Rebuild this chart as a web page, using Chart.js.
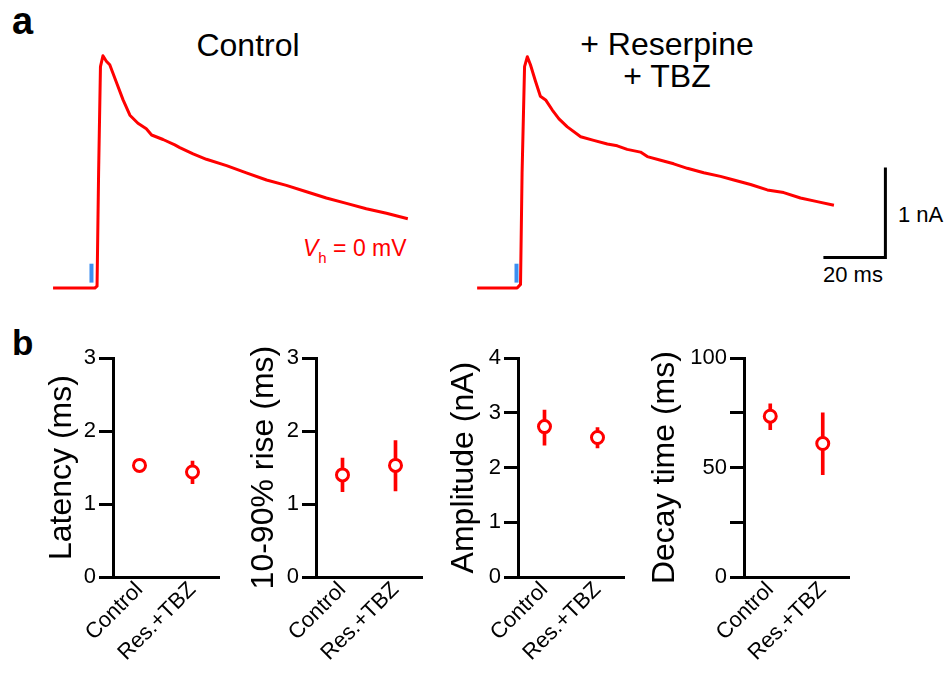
<!DOCTYPE html>
<html>
<head>
<meta charset="utf-8">
<script src="https://cdn.jsdelivr.net/npm/chart.js@4.4.1/dist/chart.umd.min.js"></script>
<style>
  body { margin: 0; background: #fff; }
  #page { position: relative; width: 948px; height: 673px; overflow: hidden; font-family: "Liberation Sans", Arial, sans-serif; }
  canvas { position: absolute; }
  .txt { position: absolute; line-height: 1; white-space: nowrap; color: #000; }
</style>
</head>
<body>
<div id="page">
  <div class="txt" style="left:12px; top:2px; font-size:38px; font-weight:bold;">a</div>
  <div class="txt" style="left:12px; top:325px; font-size:35px; font-weight:bold;">b</div>
  <div class="txt" style="left:148px; width:200px; text-align:center; top:29px; font-size:32px;">Control</div>
  <div class="txt" style="left:567px; width:200px; text-align:center; top:28px; font-size:32px;">+ Reserpine</div>
  <div class="txt" style="left:567px; width:200px; text-align:center; top:60px; font-size:32px;">+ TBZ</div>
  <div class="txt" style="left:303px; top:237px; font-size:23px; color:#ff0000;"><i>V</i><span style="font-size:15px; position:relative; top:7px;">h</span> = 0 mV</div>
  <div class="txt" style="left:898px; top:204px; font-size:22px;">1 nA</div>
  <div class="txt" style="left:823px; top:264px; font-size:22px;">20 ms</div>

  <canvas id="traceControl" width="378" height="252" style="left:45px; top:45px;"></canvas>
  <canvas id="traceRes" width="434" height="252" style="left:470px; top:45px;"></canvas>

  <canvas id="latency" width="187" height="330" style="left:41px; top:342px;"></canvas>
  <canvas id="rise" width="188" height="330" style="left:243px; top:342px;"></canvas>
  <canvas id="amp" width="190" height="330" style="left:443px; top:342px;"></canvas>
  <canvas id="decay" width="214" height="330" style="left:644px; top:342px;"></canvas>
</div>
<script>
// panel a: evoked currents (time in ms from stimulus, current in nA)
const controlTime = [-12.4, 1.1, 1.8, 2.3, 2.9, 3.7, 4.8, 5.9, 8.1, 10.2, 12.4, 15.0, 17.7, 19.4, 23.1, 26.9, 28.5, 32.8, 37.1, 43.6, 50.0, 56.5, 62.9, 69.4, 75.8, 82.3, 88.7, 95.2, 102.1];
const controlCurrent = [0, 0, 0.02, 1.28, 2.46, 2.58, 2.52, 2.48, 2.28, 2.09, 1.92, 1.83, 1.77, 1.70, 1.65, 1.59, 1.56, 1.49, 1.43, 1.36, 1.28, 1.20, 1.14, 1.07, 1.00, 0.94, 0.88, 0.83, 0.77];
const resTime = [-12.7, 0.2, 1.3, 1.8, 2.6, 3.5, 4.5, 6.1, 7.7, 9.4, 11.5, 13.7, 16.4, 20.7, 24.9, 29.3, 32.5, 35.7, 40.0, 42.2, 46.5, 50.7, 55.1, 60.4, 65.8, 70.1, 75.5, 80.9, 86.2, 91.6, 97.0, 102.4];
const resCurrent = [0, 0, 0.04, 1.28, 2.46, 2.57, 2.48, 2.30, 2.13, 2.09, 1.98, 1.88, 1.79, 1.68, 1.64, 1.60, 1.58, 1.54, 1.51, 1.46, 1.42, 1.38, 1.33, 1.28, 1.24, 1.20, 1.15, 1.09, 1.06, 1.00, 0.96, 0.92];
const stimTime = 0;
const stimRange = [0.06, 0.27];
const scaleBarMs = 20;
const scaleBarNa = 1;
const scaleBarCorner = [119, 0.34];

// panel b: mean and error range
const groups = ['Control', 'Res.+TBZ'];
const latencyMean = [1.53, 1.44];
const latencyLow = [1.49, 1.28];
const latencyHigh = [1.57, 1.59];
const riseMean = [1.40, 1.53];
const riseLow = [1.17, 1.18];
const riseHigh = [1.63, 1.87];
const ampMean = [2.75, 2.55];
const ampLow = [2.41, 2.36];
const ampHigh = [3.05, 2.73];
const decayMean = [73.5, 61.0];
const decayLow = [67.3, 46.8];
const decayHigh = [79.2, 75.0];

const RED = '#ff0000';
const BLUE = '#3d8ff0';
const FONT = '"Liberation Sans", Arial, sans-serif';

function xy(xs, ys) {
    return xs.map((x, i) => ({x: x, y: ys[i]}));
}

function makeTrace(id, time, current, xMax, extra) {
    const datasets = [{
        data: xy(time, current),
        borderColor: RED,
        borderWidth: 3,
        pointRadius: 0,
        tension: 0,
        borderJoinStyle: 'round',
        clip: false
    }, {
        data: [{x: stimTime, y: stimRange[0]}, {x: stimTime, y: stimRange[1]}],
        borderColor: BLUE,
        borderWidth: 4,
        pointRadius: 0,
        clip: false
    }].concat(extra || []);

    new Chart(document.getElementById(id), {
        type: 'line',
        data: {datasets: datasets},
        options: {
            responsive: false,
            animation: false,
            plugins: {legend: {display: false}, tooltip: {enabled: false}},
            scales: {
                x: {type: 'linear', display: false, min: -15, max: xMax},
                y: {display: false, min: -0.1, max: 2.7}
            }
        }
    });
}

makeTrace('traceControl', controlTime, controlCurrent, 107);
makeTrace('traceRes', resTime, resCurrent, 125, [{
    data: [
        {x: scaleBarCorner[0] - scaleBarMs, y: scaleBarCorner[1]},
        {x: scaleBarCorner[0], y: scaleBarCorner[1]},
        {x: scaleBarCorner[0], y: scaleBarCorner[1] + scaleBarNa}
    ],
    borderColor: '#000',
    borderWidth: 3,
    pointRadius: 0,
    borderJoinStyle: 'miter',
    clip: false
}]);

function makeSummary(id, title, mean, low, high, yMax, step, axisWidth) {
    new Chart(document.getElementById(id), {
        type: 'bar',
        data: {
            labels: groups,
            datasets: [{
                type: 'line',
                data: mean,
                showLine: false,
                pointRadius: 6,
                pointBorderWidth: 3,
                pointBorderColor: RED,
                pointBackgroundColor: '#fff',
                order: 1
            }, {
                type: 'bar',
                data: low.map((v, i) => [v, high[i]]),
                backgroundColor: RED,
                barThickness: 3,
                order: 2
            }]
        },
        options: {
            responsive: false,
            animation: false,
            layout: {padding: {top: 15, right: 5}},
            plugins: {legend: {display: false}, tooltip: {enabled: false}},
            scales: {
                x: {
                    offset: true,
                    grid: {display: false, drawTicks: false, tickLength: 0},
                    border: {color: '#000', width: 3},
                    ticks: {
                        color: '#000',
                        font: {family: FONT, size: 22},
                        minRotation: 45,
                        maxRotation: 45,
                        padding: 0
                    },
                    afterFit: (s) => { s.height = 95; }
                },
                y: {
                    min: 0,
                    max: yMax,
                    grid: {drawOnChartArea: false, tickLength: 14, tickWidth: 3, tickColor: '#000'},
                    border: {color: '#000', width: 3},
                    ticks: {
                        stepSize: step,
                        color: '#000',
                        padding: 3,
                        font: {family: FONT, size: 22},
                        callback: (v) => (v % (step * (yMax > 10 ? 2 : 1)) === 0 ? v : '')
                    },
                    title: {
                        display: true,
                        text: title,
                        color: '#000',
                        padding: {top: 2, bottom: 0},
                        font: {family: FONT, size: 32}
                    },
                    afterFit: (s) => { s.width = axisWidth; }
                }
            }
        }
    });
}

makeSummary('latency', 'Latency (ms)', latencyMean, latencyLow, latencyHigh, 3, 1, 72);
makeSummary('rise', '10-90% rise (ms)', riseMean, riseLow, riseHigh, 3, 1, 73);
makeSummary('amp', 'Amplitude (nA)', ampMean, ampLow, ampHigh, 4, 1, 75);
makeSummary('decay', 'Decay time (ms)', decayMean, decayLow, decayHigh, 100, 25, 100);
</script>
</body>
</html>
